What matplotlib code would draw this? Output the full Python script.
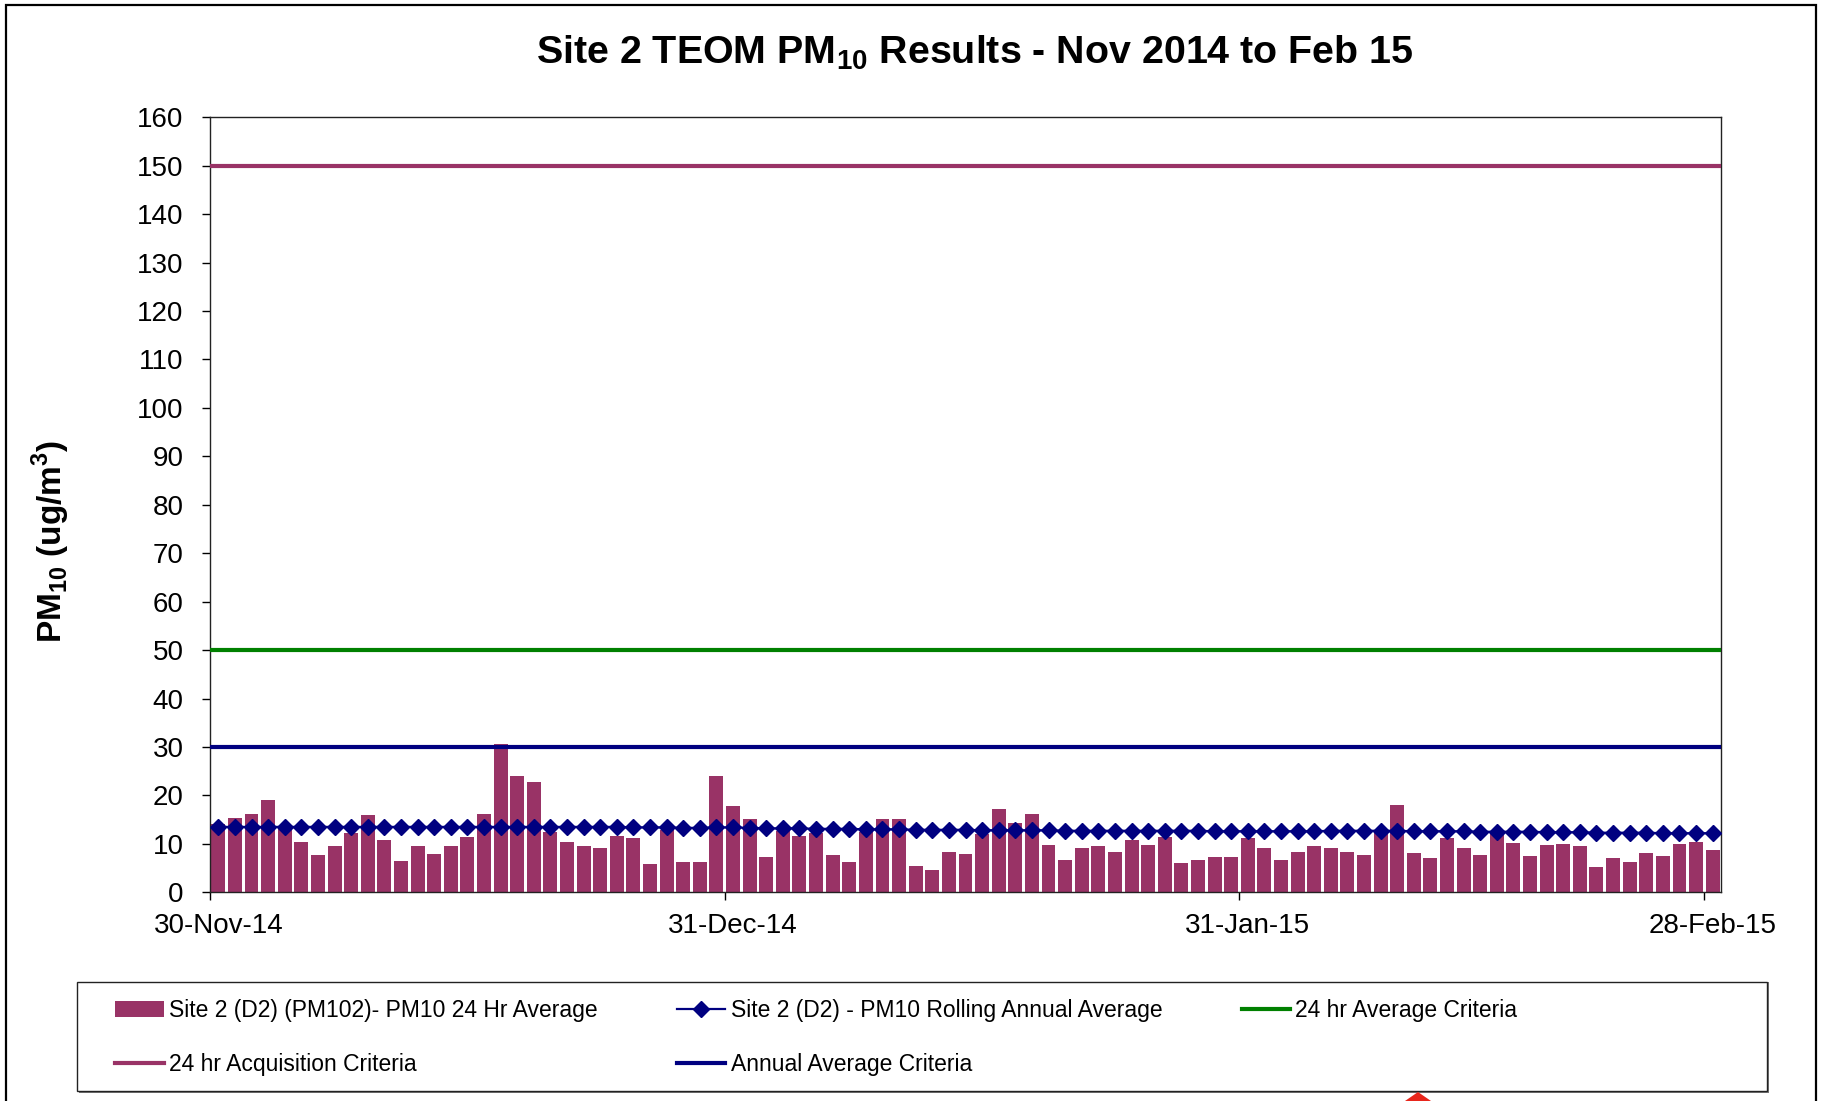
#!/usr/bin/env python3
# -*- coding: utf-8 -*-

import numpy as np
import pandas as pd
import matplotlib
matplotlib.use("Agg")
import matplotlib.pyplot as plt
import matplotlib.dates as mdates
from matplotlib.patches import Rectangle, Polygon

# ---------------- dados ----------------

start_date = "2014-11-30"
end_date = "2015-02-28"

pm10_24hr = [14.0, 15.4, 16.1, 19.1, 13.3, 10.4, 7.7, 9.5, 12.2, 15.9,
             10.7, 6.4, 9.5, 8.0, 9.5, 11.4, 16.1, 30.7, 24.0, 22.8,
             12.4, 10.4, 9.5, 9.2, 11.7, 11.2, 5.8, 12.8, 6.2, 6.2,
             24.0, 17.8, 15.1, 7.3, 12.6, 11.7, 12.2, 7.7, 6.2, 12.5,
             15.1, 15.1, 5.5, 4.7, 8.4, 8.0, 12.0, 17.3, 14.3, 16.1,
             9.7, 6.7, 9.2, 9.5, 8.4, 10.9, 9.7, 11.4, 6.0, 6.7,
             7.2, 7.2, 11.2, 9.2, 6.7, 8.4, 9.5, 9.2, 8.4, 7.7,
             12.2, 18.1, 8.2, 7.0, 11.2, 9.2, 7.7, 12.4, 10.2, 7.5,
             9.7, 10.0, 9.5, 5.2, 7.0, 6.2, 8.2, 7.5, 10.0, 10.4,
             8.7]

rolling_annual = [13.5, 13.5, 13.5, 13.5, 13.5, 13.5, 13.5, 13.5, 13.5, 13.5,
                  13.5, 13.5, 13.5, 13.5, 13.5, 13.5, 13.5, 13.5, 13.5, 13.5,
                  13.5, 13.5, 13.5,
                  13.5, 13.5, 13.4, 13.4, 13.4, 13.3, 13.3, 13.4, 13.4, 13.3,
                  13.2, 13.2, 13.2, 13.1, 13.1, 13.1, 13.0, 13.0, 13.0, 12.9,
                  12.9, 12.9, 12.9, 12.8,
                  12.8, 12.8, 12.8, 12.8, 12.7, 12.7, 12.7, 12.7, 12.7, 12.7,
                  12.7, 12.7, 12.7, 12.6, 12.6, 12.6, 12.6, 12.6, 12.6, 12.6,
                  12.7, 12.7, 12.7,
                  12.7, 12.7, 12.6, 12.6, 12.6, 12.6, 12.5, 12.5, 12.5, 12.5,
                  12.4, 12.4, 12.4, 12.3, 12.3, 12.3, 12.3, 12.2, 12.2, 12.2,
                  12.2]

crit_acquisition = 150
crit_24hr = 50
crit_annual = 30

tick_dates = ["2014-11-30", "2014-12-31", "2015-01-31", "2015-02-28"]

lbl_bar = "Site 2 (D2) (PM102)- PM10 24 Hr Average"
lbl_roll = "Site 2 (D2) - PM10 Rolling Annual Average"
lbl_24 = "24 hr Average Criteria"
lbl_acq = "24 hr Acquisition Criteria"
lbl_ann = "Annual Average Criteria"

# ---------------- estilo ----------------

plt.rcParams["font.family"] = ["Liberation Sans", "DejaVu Sans"]
plt.rcParams["mathtext.fontset"] = "custom"
plt.rcParams["mathtext.rm"] = "Liberation Sans"
plt.rcParams["mathtext.bf"] = "Liberation Sans:bold"

PLUM = "#993366"
NAVY = "#000080"
GREEN = "#008000"

W, H = 1823, 1101
fig = plt.figure(figsize=(W / 100, H / 100), dpi=100)
ax = fig.add_axes([210 / W, 1 - 892.3 / H, (1721 - 210) / W, (892.3 - 117.3) / H])

days = pd.date_range(start_date, end_date, freq="D")
x_mid = days + pd.Timedelta(hours=12)

ax.bar(x_mid, pm10_24hr, width=0.84, color=PLUM, label=lbl_bar, zorder=2)
ax.plot(x_mid, rolling_annual, color=NAVY, lw=1.6, marker="D", ms=8,
        label=lbl_roll, zorder=4)
ax.axhline(crit_24hr, color=GREEN, lw=3, label=lbl_24, zorder=3)
ax.axhline(crit_acquisition, color=PLUM, lw=3, label=lbl_acq, zorder=3)
ax.axhline(crit_annual, color=NAVY, lw=3, label=lbl_ann, zorder=3)

ax.set_xlim(pd.Timestamp(start_date), pd.Timestamp(end_date) + pd.Timedelta(days=1))
ax.set_ylim(0, 160)
ax.set_yticks(np.arange(0, 161, 10))

# marcas nas datas, rótulos centrados no dia
ticks = pd.to_datetime(tick_dates)
ax.set_xticks(ticks)
ax.set_xticklabels([])
ax.set_xticks(ticks + pd.Timedelta(hours=12), minor=True)
ax.xaxis.set_minor_formatter(mdates.DateFormatter("%d-%b-%y"))
ax.tick_params(axis="x", which="major", direction="out", length=6, width=1)
ax.tick_params(axis="x", which="minor", length=0, pad=15, labelsize=20)
ax.tick_params(axis="y", direction="out", length=6, width=1, pad=13, labelsize=20)

for s in ax.spines.values():
    s.set_linewidth(1.0)
    s.set_color("#222222")

ax.set_ylabel(r"PM$_{\mathbf{10}}$ (ug/m$^{\mathbf{3}}$)", fontsize=24, fontweight="bold")
ax.yaxis.set_label_coords(-0.091, 0.453)

fig.text(975 / W, 1 - 53 / H, r"Site 2 TEOM PM$_{\mathbf{10}}$ Results - Nov 2014 to Feb 15",
         ha="center", va="center", fontsize=28.4, fontweight="bold")

# ---------------- legenda ----------------

h, l = ax.get_legend_handles_labels()
hd = dict(zip(l, h))
order = [lbl_bar, lbl_acq, lbl_roll, lbl_ann, lbl_24]
fig.legend([hd[k] for k in order], order, ncol=3, loc="upper left",
           bbox_to_anchor=(104 / W, 1 - 988 / H), frameon=False, fontsize=16.5,
           borderpad=0, handlelength=2.1, handletextpad=0.25,
           columnspacing=3.45, labelspacing=1.33)

# caixa da legenda (com sombra)
fig.add_artist(Rectangle((79 / W, 1 - 1093 / H), (1767 - 77) / W, (1093 - 982) / H,
                         transform=fig.transFigure, facecolor="#777777",
                         edgecolor="none", zorder=0))
fig.add_artist(Rectangle((77 / W, 1 - 1091 / H), (1767 - 77) / W, (1091 - 982) / H,
                         transform=fig.transFigure, facecolor="white",
                         edgecolor="#222222", lw=1.0, zorder=0.5))

# moldura externa
fig.add_artist(Rectangle((6 / W, -0.02), (1816 - 6) / W, 1.02 - 5 / H,
                         transform=fig.transFigure, fill=False,
                         edgecolor="black", lw=1.6))

# seta vermelha cortada no rodapé
fig.add_artist(Polygon([(1405 / W, 0), (1431 / W, 0), (1418 / W, 1 - 1092 / H)],
                       closed=True, transform=fig.transFigure,
                       facecolor="#e8261c", edgecolor="none"))

fig.savefig("out.png", dpi=100)
